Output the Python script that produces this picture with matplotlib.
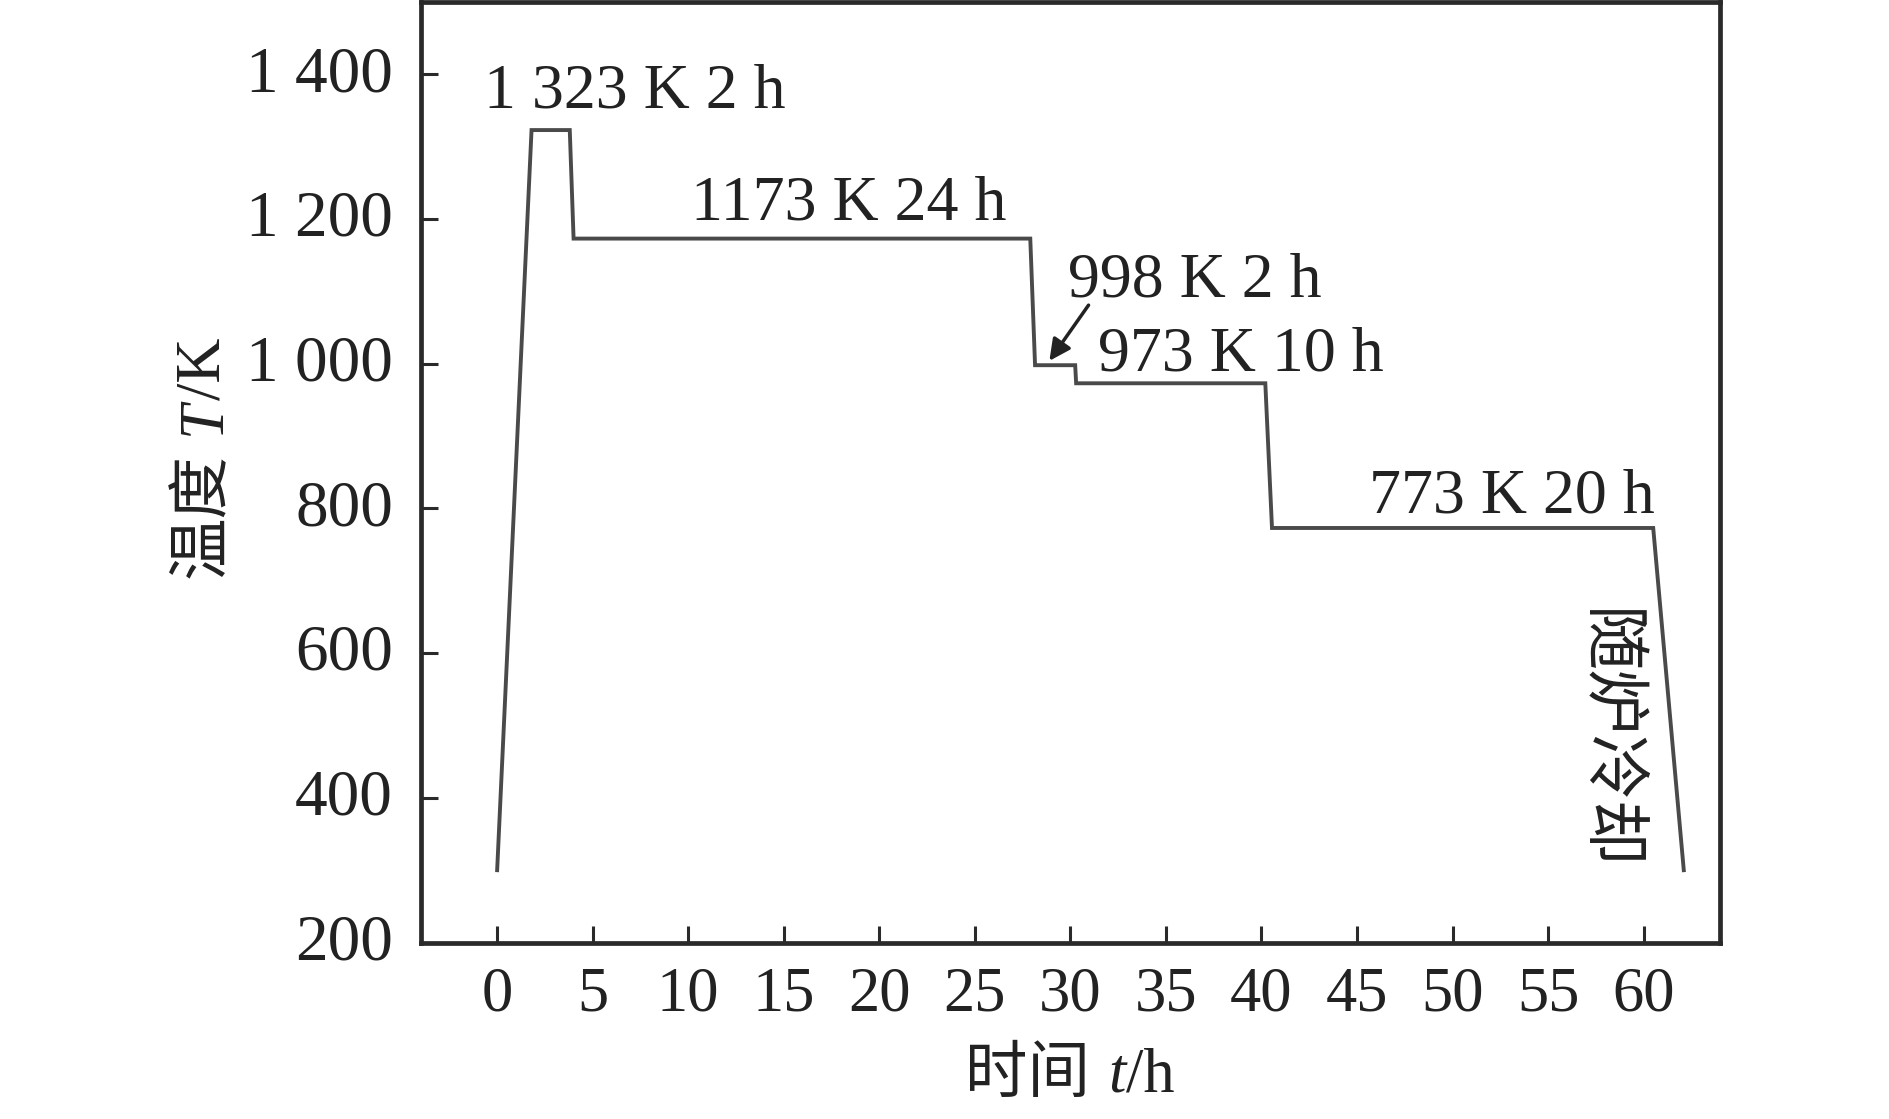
import matplotlib
matplotlib.use('Agg')
import matplotlib.pyplot as plt
import matplotlib.transforms as mtransforms

# ---- data ----
time_h = [0, 1.8, 3.8, 4.0, 27.9, 28.15, 30.25, 30.3, 40.2, 40.55, 60.5, 62.1]
temp_K = [300, 1323, 1323, 1173, 1173, 998, 998, 973, 973, 773, 773, 300]
x_ticks = list(range(0, 61, 5))
y_ticks = [200, 400, 600, 800, 1000, 1200, 1400]
y_tick_labels = ['200', '400', '600', '800', '1 000', '1 200', '1 400']
stage_labels = ['1 323 K 2 h', '1173 K 24 h', '998 K 2 h', '973 K 10 h', '773 K 20 h']
cooling_label = '随炉冷却'
x_label_parts = [('时间', 'normal'), ('t', 'italic'), ('/h', 'normal')]
y_label_parts = [('温度', 'normal'), ('T', 'italic'), ('/K', 'normal')]

SERIF = 'Liberation Serif'
CJK = 'Noto Sans CJK SC'
plt.rcParams['font.family'] = [SERIF, CJK, 'DejaVu Sans']

LINE = '#4a4a4a'
INK = '#222222'

fig = plt.figure(figsize=(18.9, 11.19), dpi=100)
ax = fig.add_axes([0.2226, 0.1577, 0.6875, 0.8405])

ax.plot(time_h, temp_K, color=LINE, lw=2.8, solid_joinstyle='miter')

ax.set_xlim(-4, 64)
ax.set_ylim(200, 1500)
ax.set_xticks(x_ticks)
ax.set_xticklabels([str(v) for v in x_ticks])
ax.set_yticks(y_ticks)
ax.set_yticklabels(y_tick_labels)

for s in ax.spines.values():
    s.set_linewidth(3.4)
    s.set_color('#2a2a2a')
ax.tick_params(direction='in', length=12, width=2.2, color='#2a2a2a',
               top=False, right=False, labelcolor=INK)
ax.tick_params(axis='y', labelsize=47, pad=20)
ax.tick_params(axis='x', labelsize=45, pad=17)

shift_up = mtransforms.ScaledTranslation(0, 6 / 100, fig.dpi_scale_trans)
for lab in ax.get_yticklabels():
    lab.set_transform(lab.get_transform() + shift_up)

# stage annotations
stage_pos = [(7.2, 1354), (18.4, 1199), (36.5, 1093), (38.9, 990), (53.1, 795)]
for lab, (x, y) in zip(stage_labels, stage_pos):
    ax.text(x, y, lab, ha='center', va='baseline', fontsize=46, color=INK)

ax.text(58.1, 480, cooling_label, rotation=-90, ha='center', va='center',
        fontsize=47, color=INK, family=[CJK])

ax.annotate('', xy=(28.9, 1004), xytext=(30.95, 1081),
            arrowprops=dict(arrowstyle='-|>', color=INK, lw=2.5,
                            mutation_scale=32, shrinkA=0, shrinkB=0))

# axis labels built from pieces (italic variable)
fig.canvas.draw()
renderer = fig.canvas.get_renderer()
W, H = fig.get_size_inches() * fig.dpi


def chained(parts, center, base, rotation, gap_px, size=45):
    texts = []
    for s, st in parts:
        fam = [CJK] if any(ord(c) > 0x2E80 for c in s) else [SERIF]
        t = fig.text(0, 0, s, fontsize=size, style=st, family=fam,
                     rotation=rotation, rotation_mode='anchor',
                     ha='left', va='baseline', color=INK)
        texts.append(t)
    lens = []
    for t in texts:
        bb = t.get_window_extent(renderer)
        lens.append(bb.height if rotation else bb.width)
    gaps = [gap_px] + [0] * (len(texts) - 2)
    total = sum(lens) + sum(gaps)
    pos = center - total / 2
    for i, t in enumerate(texts):
        if rotation:
            t.set_position((base / W, pos / H))
        else:
            t.set_position((pos / W, base / H))
        pos += lens[i] + (gaps[i] if i < len(gaps) else 0)


chained(x_label_parts, center=1070, base=1119 - 1092, rotation=0, gap_px=18)
chained(y_label_parts, center=1119 - 458, base=220, rotation=90, gap_px=18)

fig.savefig('out.png', dpi=100)
